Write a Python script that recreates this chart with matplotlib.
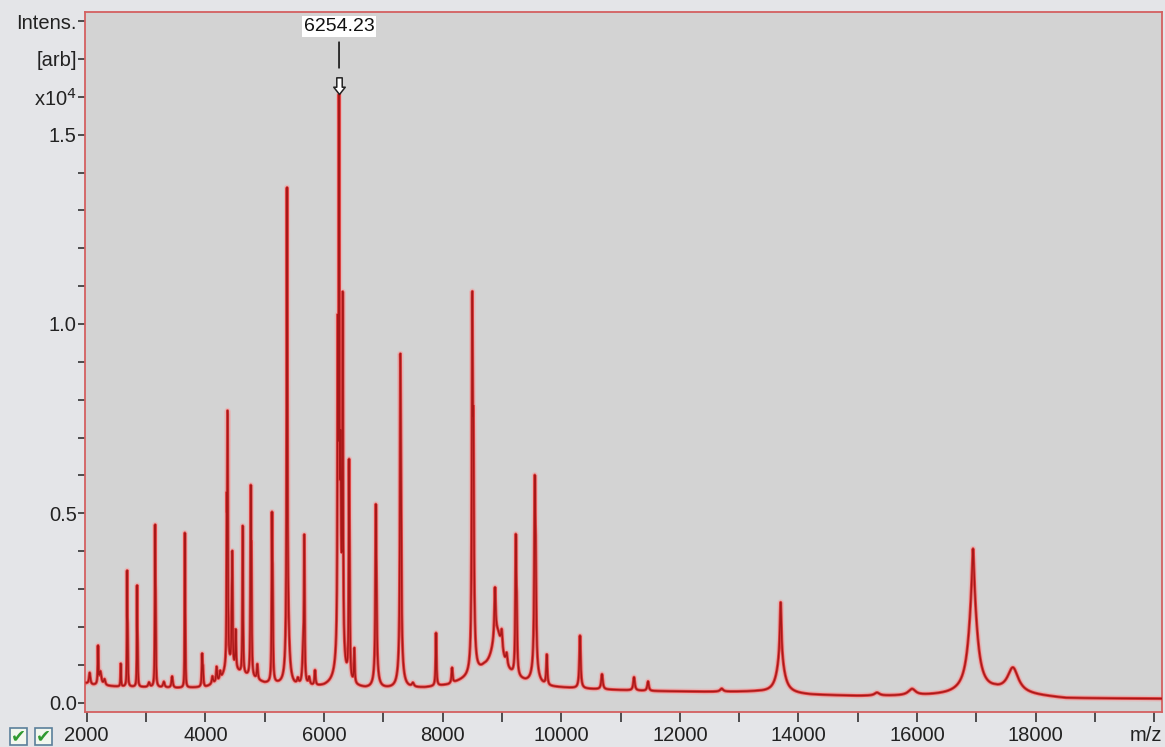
import numpy as np
import matplotlib
matplotlib.use("Agg")
import matplotlib.pyplot as plt
from matplotlib.patches import Rectangle
from matplotlib.path import Path
from matplotlib.transforms import ScaledTranslation

# ---------------- data ----------------
# baseline of the spectrum (m/z, intensity x10^4)
baseline_mz = [2000, 2100, 2500, 3000, 3500, 4000, 4250, 4330, 4400, 4600, 5000,
               5300, 5500, 6000, 6200, 6700, 7200, 7700, 8100, 8400, 8700, 9000,
               9400, 9800, 10500, 11500, 12500, 13300, 14200, 15000, 16000, 16500,
               17300, 18000, 18500, 20130]
baseline_int = [0.050, 0.046, 0.042, 0.040, 0.038, 0.040, 0.055, 0.080, 0.100, 0.075, 0.050,
                0.045, 0.040, 0.040, 0.045, 0.035, 0.035, 0.038, 0.045, 0.060, 0.080, 0.070,
                0.050, 0.040, 0.035, 0.030, 0.028, 0.028, 0.020, 0.017, 0.017, 0.020,
                0.028, 0.018, 0.011, 0.010]

# peaks: centre (m/z), height above baseline (x10^4), FWHM (m/z)
peak_mz = [2050, 2191, 2230, 2300, 2574, 2681, 2690, 2849, 2858, 3050, 3153, 3162,
           3300, 3440, 3654, 3662, 3946, 3960, 4120, 4190, 4250,
           4362, 4375, 4445, 4455, 4512, 4630, 4765, 4777, 4877, 5124, 5135,
           5377, 5390, 5560, 5650, 5669, 5750, 5849,
           6232, 6254.23, 6275, 6280, 6316, 6423, 6432, 6512,
           6873, 6885, 6880, 7288, 7300, 7295, 7500, 7890, 8160,
           8501, 8520, 8520, 8884, 8920, 8997, 9080, 9234, 9250,
           9554, 9570, 9560, 9757, 10317, 10688, 11228, 11464, 12706,
           13700, 13700, 15324, 15915, 16944, 16944, 17617]
peak_amp = [0.030, 0.100, 0.035, 0.015, 0.060, 0.290, 0.120, 0.255, 0.100, 0.012, 0.400, 0.160,
            0.015, 0.030, 0.375, 0.120, 0.080, 0.040, 0.020, 0.040, 0.025,
            0.350, 0.640, 0.120, 0.270, 0.100, 0.390, 0.460, 0.260, 0.040, 0.400, 0.200,
            1.210, 0.150, 0.015, 0.090, 0.370, 0.020, 0.040,
            0.750, 1.300, 0.220, 0.340, 0.890, 0.500, 0.220, 0.090,
            0.380, 0.170, 0.060, 0.720, 0.280, 0.080, 0.010, 0.140, 0.040,
            0.860, 0.420, 0.120, 0.130, 0.110, 0.050, 0.030, 0.340, 0.140,
            0.440, 0.220, 0.050, 0.080, 0.140, 0.040, 0.035, 0.025, 0.008,
            0.150, 0.090, 0.008, 0.017, 0.120, 0.260, 0.065]
peak_fwhm = [25, 12, 40, 30, 10, 8, 10, 8, 10, 30, 10, 10,
             30, 25, 7, 10, 15, 15, 25, 20, 25,
             10, 12, 12, 12, 15, 12, 12, 12, 20, 13, 13,
             14, 60, 30, 30, 13, 30, 20,
             12, 13, 90, 13, 13, 13, 13, 15,
             15, 15, 70, 16, 16, 80, 40, 16, 20,
             18, 18, 50, 25, 200, 30, 30, 18, 18,
             20, 20, 100, 20, 25, 30, 30, 30, 60,
             30, 150, 100, 150, 40, 170, 220]

annot_mz = 6254.23
annot_label = "6254.23"

ytick_vals = [0.0, 0.1, 0.2, 0.3, 0.4, 0.5, 0.6, 0.7, 0.8, 0.9, 1.0, 1.1, 1.2,
              1.3, 1.4, 1.5, 1.6, 1.7, 1.8]
ytick_labels = ["0.0", "", "", "", "", "0.5", "", "", "", "", "1.0", "", "", "",
                "", "1.5", "x10$^{4}$", "[arb]", "Intens."]
xtick_vals = list(range(2000, 20001, 1000))
xtick_labels = ["2000", "", "4000", "", "6000", "", "8000", "", "10000", "",
                "12000", "", "14000", "", "16000", "", "18000", "", "m/z"]

# ---------------- build the trace ----------------
mz = np.arange(2000.0, 20130.0, 2.0)
intensity = np.interp(mz, baseline_mz, baseline_int)
for c, a, w in zip(peak_mz, peak_amp, peak_fwhm):
    intensity = intensity + a / (1.0 + (2.0 * (mz - c) / w) ** 2)

# ---------------- figure ----------------
W, H = 1165, 747
fig = plt.figure(figsize=(W / 100, H / 100), dpi=100)
fig.patch.set_facecolor("#e4e5e8")

plt.rcParams["font.family"] = ["Liberation Sans", "DejaVu Sans"]

L, R, T, B = 85, 1162, 12, 712
ax = fig.add_axes([L / W, 1 - B / H, (R - L) / W, (B - T) / H])
ax.set_facecolor("#d3d3d3")

ax.plot(mz, intensity, color="#f2a6a6", lw=4.2, alpha=0.55, solid_joinstyle="round", zorder=2)
ax.plot(mz, intensity, color="#e02020", lw=2.2, alpha=0.75, zorder=3)
ax.plot(mz, intensity, color="#a81818", lw=1.0, zorder=4)

ax.set_xlim(1971, 20130)
ax.set_ylim(-0.025, 1.824)

for s in ax.spines.values():
    s.set_color("#d46060")
    s.set_linewidth(1.3)

ax.set_yticks(ytick_vals)
ax.set_yticklabels(ytick_labels)
ax.set_xticks(xtick_vals)
ax.set_xticklabels(xtick_labels)
ax.tick_params(axis="y", direction="out", length=5, width=1.2, color="#333333",
               labelsize=14.5, pad=1, labelcolor="#222222")
ax.tick_params(axis="x", direction="out", length=7, width=1.2, color="#333333",
               labelsize=14.5, pad=3, labelcolor="#222222")
last = ax.get_xticklabels()[-1]
last.set_horizontalalignment("right")
last.set_transform(last.get_transform() + ScaledTranslation(8 / 100, 0, fig.dpi_scale_trans))

# annotation of the base peak
itop = intensity[np.argmin(np.abs(mz - annot_mz))]
arrow_path = Path([(0, 0), (5.5, 7), (2.6, 7), (2.6, 16), (-2.6, 16), (-2.6, 7), (-5.5, 7), (0, 0)],
                  [Path.MOVETO] + [Path.LINETO] * 6 + [Path.CLOSEPOLY])
ax.plot([annot_mz], [itop], marker=arrow_path, markersize=24, markerfacecolor="white",
        markeredgecolor="#222222", markeredgewidth=1.1, linestyle="none", zorder=6,
        clip_on=False)
ax.annotate(annot_label, xy=(annot_mz, itop), xytext=(0, 68), textcoords="offset pixels",
            ha="center", va="center", fontsize=14, color="#111111",
            bbox=dict(boxstyle="square,pad=0.1", fc="white", ec="none"),
            arrowprops=dict(arrowstyle="-", color="#222222", lw=1.3, shrinkA=4, shrinkB=19),
            zorder=7, annotation_clip=False)

# check boxes at the lower left
for x0 in (10, 35):
    fig.patches.append(Rectangle((x0 / W, 1 - 745 / H), 17 / W, 17 / H,
                                 transform=fig.transFigure, fc="#f2f7ee", ec="#5a7f9a", lw=1.2))
    fig.text((x0 + 8.5) / W, 1 - 736.5 / H, "\u2714", ha="center", va="center",
             color="#2f9a2f", fontsize=13, family="DejaVu Sans")

fig.savefig("out.png", dpi=100, facecolor=fig.get_facecolor())
